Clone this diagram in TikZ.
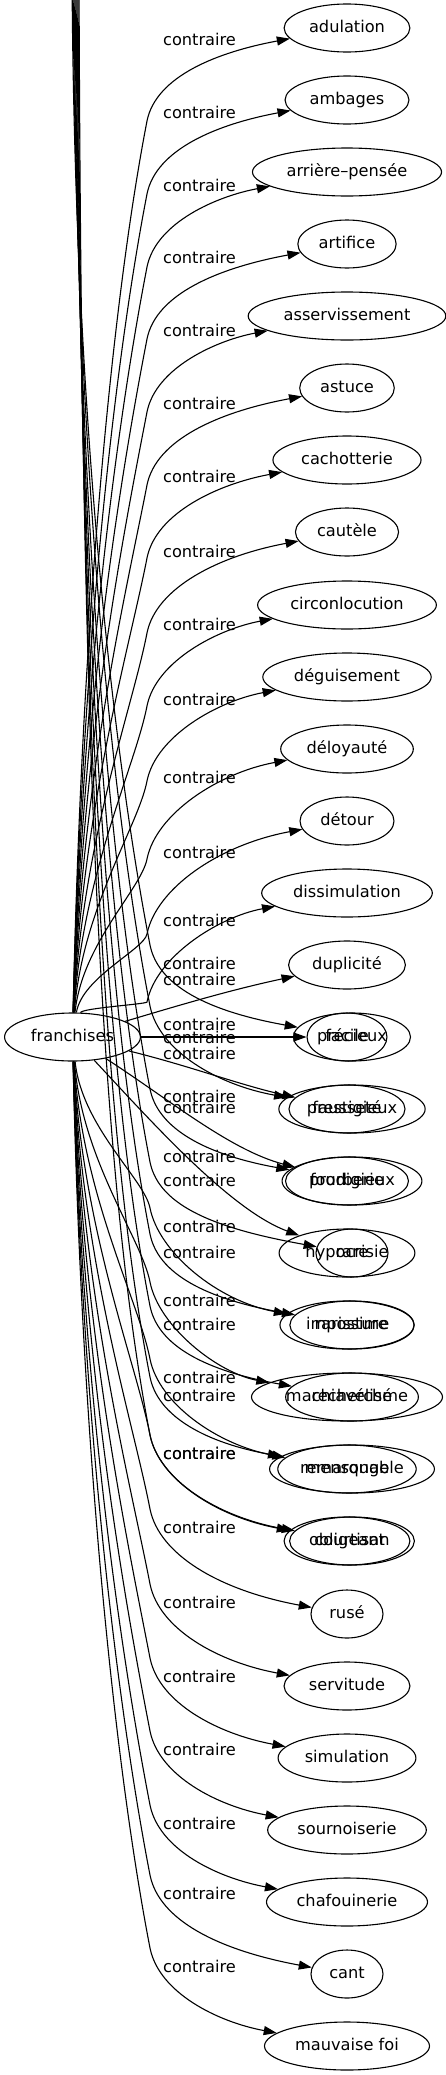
\documentclass[tikz,border=0pt]{standalone}
\usepackage{fontspec}
\setmainfont{DejaVu Sans}
\usetikzlibrary{shapes.geometric,arrows.meta}

\tikzset{
  mot/.style={draw, line width=1.1pt, ellipse, minimum width=72pt, minimum height=48pt,
    inner xsep=6.5pt, inner ysep=2pt, text height=12.3pt, text depth=3.9pt,
    font=\fontsize{16.2}{19}\selectfont},
  etiq/.style={inner sep=0pt, text height=12.3pt, text depth=3.9pt,
    font=\fontsize{16.2}{19}\selectfont},
  lien/.style={line width=1.1pt, -{Triangle[length=13pt,width=9pt]}}
}

\begin{document}
\begin{tikzpicture}[x=1pt,y=-1pt]
\useasboundingbox (0,0) rectangle (446,2075);
\clip (0,0) rectangle (446,2075);

\node[mot] (franchises) at (72.5,1037) {franchises};

% contraires au-dessus
\foreach \nom/\txt/\yy/\ly in {adulation/adulation/28/41, ambages/ambages/100/114,
  arriere/arrière–pensée/172/187, artifice/artifice/244/259,
  asservissement/asservissement/316/332, astuce/astuce/388/405,
  cachotterie/cachotterie/460/478, cautele/cautèle/532/553,
  circonlocution/circonlocution/605/626, deguisement/déguisement/677/701,
  deloyaute/déloyauté/749/779, detour/détour/821/854,
  dissimulation/dissimulation/893/922}{
  \node[mot] (\nom) at (347,\yy) {\txt};
  \pgfmathsetmacro\vy{\ly+80}
  \pgfmathsetmacro\kk{0.2*(1013-\vy)}
  \draw[lien] (franchises) .. controls (82,{1013-0.45*(1013-\vy)}) and ({147-0.19*\kk},{\vy+0.98*\kk})
    .. (147,\vy) .. controls (156,{\vy-45}) and (218,{\yy+24}) .. (\nom);
  \node[etiq] at (199.5,\ly) {contraire};
}

\node[mot] (duplicite) at (347,965) {duplicité};
\draw[lien] (franchises) .. controls (180,1005) and (230,990) .. (duplicite);
\node[etiq] at (199.5,981) {contraire};

\node[mot] (facile) at (347,1037) {facile};
\draw[lien] (franchises) -- (facile);
\node[etiq] at (199.5,1039) {contraire};

\node[mot] (faussete) at (347,1109) {fausseté};
\draw[lien] (franchises) .. controls (190,1066) and (240,1085) .. (faussete);
\node[etiq] at (199.5,1055) {contraire};

\node[mot] (fourberie) at (347,1181) {fourberie};
\draw[lien] (franchises) .. controls (170,1100) and (230,1150) .. (fourberie);
\node[etiq] at (199.5,1098) {contraire};

\node[mot] (hypocrisie) at (347,1253) {hypocrisie};
\draw[lien] (franchises) .. controls (150,1120) and (230,1210) .. (hypocrisie);
\node[etiq] at (199.5,1158) {contraire};

% contraires au-dessous
\foreach \nom/\txt/\yy/\ly in {imposture/imposture/1325/1228,
  machiavelisme/machiavélisme/1397/1302, mensonge/mensonge/1469/1379,
  obligeant/obligeant/1541/1455, ruse/rusé/1614/1529,
  servitude/servitude/1686/1604, simulation/simulation/1758/1678,
  sournoiserie/sournoiserie/1830/1751, chafouinerie/chafouinerie/1902/1825,
  cant/cant/1974/1895, mauvaise/mauvaise foi/2046/1968}{
  \node[mot] (\nom) at (347,\yy) {\txt};
  \pgfmathsetmacro\vy{\ly-20}
  \pgfmathsetmacro\kk{0.2*(\vy-1061)}
  \draw[lien] (franchises) .. controls (82,{1061+0.45*(\vy-1061)}) and ({150-0.19*\kk},{\vy-0.98*\kk})
    .. (150,\vy) .. controls (159,{\vy+45}) and (218,{\yy-24}) .. (\nom);
  \node[etiq] at (199.5,\ly) {contraire};
}

% second faisceau, venu d'en haut
\foreach \nom/\txt/\yy/\ly/\xx in {precieux/précieux/1037/965/72, prestigieux/prestigieux/1109/1026/73,
  prodigieux/prodigieux/1181/1109/74, rare/rare/1253/1182/75,
  rarissime/rarissime/1325/1254/76, recherche/recherché/1397/1326/77,
  remarquable/remarquable/1469/1397/78, courtisan/courtisan/1541/1455/79}{
  \node[mot] (\nom) at (352,\yy) {\txt};
  \coordinate (h\nom) at (\xx,-30);
  \pgfmathsetmacro\vy{\ly-20}
  \pgfmathsetmacro\kk{0.2*(\vy+30)}
  \draw[lien] (h\nom) .. controls ({\xx+2},{-30+0.45*(\vy+30)}) and ({150-0.19*\kk},{\vy-0.98*\kk})
    .. (150,\vy) .. controls (159,{\vy+45}) and (218,{\yy-24}) .. (\nom);
  \node[etiq] at (199.5,\ly) {contraire};
}
\end{tikzpicture}
\end{document}
